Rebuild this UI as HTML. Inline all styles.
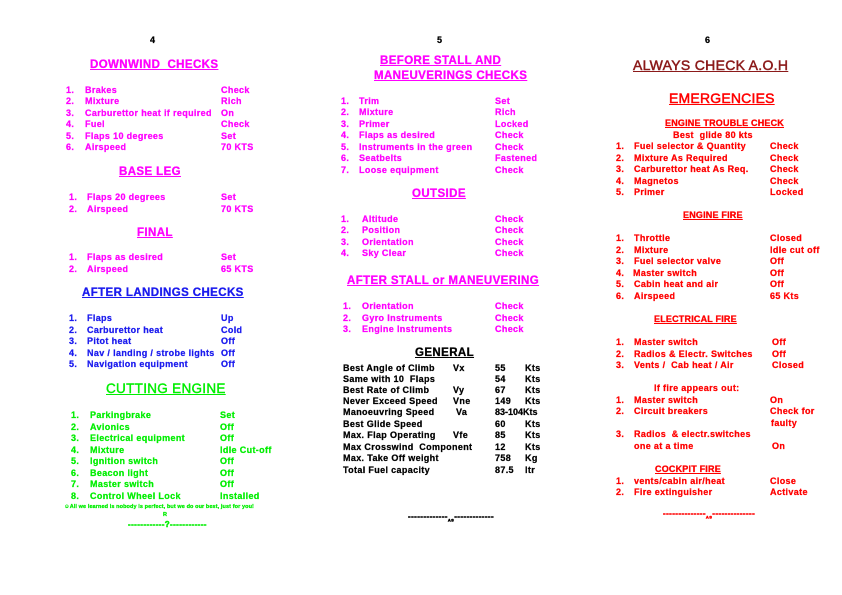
<!DOCTYPE html>
<html><head><meta charset="utf-8">
<style>
html,body{margin:0;padding:0;background:#fff;}
body{width:842px;height:595px;position:relative;overflow:hidden;font-family:"Liberation Sans",Arial,sans-serif;font-weight:bold;}
.t{position:absolute;white-space:nowrap;font-size:9px;line-height:10px;letter-spacing:0.35px;-webkit-text-stroke:0.25px currentColor;}
.h{position:absolute;white-space:nowrap;text-decoration:underline;font-size:11.5px;line-height:13px;letter-spacing:0.4px;-webkit-text-stroke:0.3px currentColor;}
.m{color:#ff00ff}.b{color:#1a1aee}.g{color:#00ee00}.r{color:#ff0000}.k{color:#000}
.d{position:absolute;white-space:nowrap;font-size:8px;line-height:8px;letter-spacing:0.4px;-webkit-text-stroke:0.5px currentColor;}
</style></head><body>
<div class="t k" style="left:150px;top:35px">4</div>
<div class="t k" style="left:437px;top:35px">5</div>
<div class="t k" style="left:705px;top:35px">6</div>

<div class="h m" style="left:90px;top:59px">DOWNWIND&nbsp; CHECKS</div>
<div class="t m" style="left:66px;top:85px">1.</div><div class="t m" style="left:85px;top:85px">Brakes</div><div class="t m" style="left:221px;top:85px">Check</div>
<div class="t m" style="left:66px;top:96px">2.</div><div class="t m" style="left:85px;top:96px">Mixture</div><div class="t m" style="left:221px;top:96px">Rich</div>
<div class="t m" style="left:66px;top:108px">3.</div><div class="t m" style="left:85px;top:108px">Carburettor heat if required</div><div class="t m" style="left:221px;top:108px">On</div>
<div class="t m" style="left:66px;top:119px">4.</div><div class="t m" style="left:85px;top:119px">Fuel</div><div class="t m" style="left:221px;top:119px">Check</div>
<div class="t m" style="left:66px;top:131px">5.</div><div class="t m" style="left:85px;top:131px">Flaps 10 degrees</div><div class="t m" style="left:221px;top:131px">Set</div>
<div class="t m" style="left:66px;top:142px">6.</div><div class="t m" style="left:85px;top:142px">Airspeed</div><div class="t m" style="left:221px;top:142px">70 KTS</div>

<div class="h m" style="left:119px;top:166px">BASE LEG</div>
<div class="t m" style="left:69px;top:192px">1.</div><div class="t m" style="left:87px;top:192px">Flaps 20 degrees</div><div class="t m" style="left:221px;top:192px">Set</div>
<div class="t m" style="left:69px;top:204px">2.</div><div class="t m" style="left:87px;top:204px">Airspeed</div><div class="t m" style="left:221px;top:204px">70 KTS</div>

<div class="h m" style="left:137px;top:227px">FINAL</div>
<div class="t m" style="left:69px;top:252px">1.</div><div class="t m" style="left:87px;top:252px">Flaps as desired</div><div class="t m" style="left:221px;top:252px">Set</div>
<div class="t m" style="left:69px;top:264px">2.</div><div class="t m" style="left:87px;top:264px">Airspeed</div><div class="t m" style="left:221px;top:264px">65 KTS</div>

<div class="h b" style="left:82px;top:287px">AFTER LANDINGS CHECKS</div>
<div class="t b" style="left:69px;top:313px">1.</div><div class="t b" style="left:87px;top:313px">Flaps</div><div class="t b" style="left:221px;top:313px">Up</div>
<div class="t b" style="left:69px;top:325px">2.</div><div class="t b" style="left:87px;top:325px">Carburettor heat</div><div class="t b" style="left:221px;top:325px">Cold</div>
<div class="t b" style="left:69px;top:336px">3.</div><div class="t b" style="left:87px;top:336px">Pitot heat</div><div class="t b" style="left:221px;top:336px">Off</div>
<div class="t b" style="left:69px;top:348px">4.</div><div class="t b" style="left:87px;top:348px">Nav / landing / strobe lights</div><div class="t b" style="left:221px;top:348px">Off</div>
<div class="t b" style="left:69px;top:359px">5.</div><div class="t b" style="left:87px;top:359px">Navigation equipment</div><div class="t b" style="left:221px;top:359px">Off</div>

<div class="h g" style="left:106px;top:381px;font-size:13.5px;line-height:16px;font-weight:normal;letter-spacing:0.3px;-webkit-text-stroke:0.4px #00ee00">CUTTING ENGINE</div>
<div class="t g" style="left:71px;top:410px">1.</div><div class="t g" style="left:90px;top:410px">Parkingbrake</div><div class="t g" style="left:220px;top:410px">Set</div>
<div class="t g" style="left:71px;top:422px">2.</div><div class="t g" style="left:90px;top:422px">Avionics</div><div class="t g" style="left:220px;top:422px">Off</div>
<div class="t g" style="left:71px;top:433px">3.</div><div class="t g" style="left:90px;top:433px">Electrical equipment</div><div class="t g" style="left:220px;top:433px">Off</div>
<div class="t g" style="left:71px;top:445px">4.</div><div class="t g" style="left:90px;top:445px">Mixture</div><div class="t g" style="left:220px;top:445px">Idle Cut-off</div>
<div class="t g" style="left:71px;top:456px">5.</div><div class="t g" style="left:90px;top:456px">Ignition switch</div><div class="t g" style="left:220px;top:456px">Off</div>
<div class="t g" style="left:71px;top:468px">6.</div><div class="t g" style="left:90px;top:468px">Beacon light</div><div class="t g" style="left:220px;top:468px">Off</div>
<div class="t g" style="left:71px;top:479px">7.</div><div class="t g" style="left:90px;top:479px">Master switch</div><div class="t g" style="left:220px;top:479px">Off</div>
<div class="t g" style="left:71px;top:491px">8.</div><div class="t g" style="left:90px;top:491px">Control Wheel Lock</div><div class="t g" style="left:220px;top:491px">Installed</div>
<div class="t g" style="left:64px;top:504px;font-size:5.5px;line-height:7px;letter-spacing:0.1px">&#9786;All we learned is nobody is perfect, but we do our best, just for you!</div>
<div class="t g" style="left:163px;top:512px;font-size:5.5px;line-height:7px">R</div>
<div class="d g" style="left:128px;top:521px">------------?------------</div>

<div class="h m" style="left:380px;top:55px">BEFORE STALL AND</div>
<div class="h m" style="left:374px;top:70px">MANEUVERINGS CHECKS</div>
<div class="t m" style="left:341px;top:96px">1.</div><div class="t m" style="left:359px;top:96px">Trim</div><div class="t m" style="left:495px;top:96px">Set</div>
<div class="t m" style="left:341px;top:107px">2.</div><div class="t m" style="left:359px;top:107px">Mixture</div><div class="t m" style="left:495px;top:107px">Rich</div>
<div class="t m" style="left:341px;top:119px">3.</div><div class="t m" style="left:359px;top:119px">Primer</div><div class="t m" style="left:495px;top:119px">Locked</div>
<div class="t m" style="left:341px;top:130px">4.</div><div class="t m" style="left:359px;top:130px">Flaps as desired</div><div class="t m" style="left:495px;top:130px">Check</div>
<div class="t m" style="left:341px;top:142px">5.</div><div class="t m" style="left:359px;top:142px">Instruments in the green</div><div class="t m" style="left:495px;top:142px">Check</div>
<div class="t m" style="left:341px;top:153px">6.</div><div class="t m" style="left:359px;top:153px">Seatbelts</div><div class="t m" style="left:495px;top:153px">Fastened</div>
<div class="t m" style="left:341px;top:165px">7.</div><div class="t m" style="left:359px;top:165px">Loose equipment</div><div class="t m" style="left:495px;top:165px">Check</div>

<div class="h m" style="left:412px;top:188px">OUTSIDE</div>
<div class="t m" style="left:341px;top:214px">1.</div><div class="t m" style="left:362px;top:214px">Altitude</div><div class="t m" style="left:495px;top:214px">Check</div>
<div class="t m" style="left:341px;top:225px">2.</div><div class="t m" style="left:362px;top:225px">Position</div><div class="t m" style="left:495px;top:225px">Check</div>
<div class="t m" style="left:341px;top:237px">3.</div><div class="t m" style="left:362px;top:237px">Orientation</div><div class="t m" style="left:495px;top:237px">Check</div>
<div class="t m" style="left:341px;top:248px">4.</div><div class="t m" style="left:362px;top:248px">Sky Clear</div><div class="t m" style="left:495px;top:248px">Check</div>

<div class="h m" style="left:347px;top:275px">AFTER STALL or MANEUVERING</div>
<div class="t m" style="left:343px;top:301px">1.</div><div class="t m" style="left:362px;top:301px">Orientation</div><div class="t m" style="left:495px;top:301px">Check</div>
<div class="t m" style="left:343px;top:313px">2.</div><div class="t m" style="left:362px;top:313px">Gyro Instruments</div><div class="t m" style="left:495px;top:313px">Check</div>
<div class="t m" style="left:343px;top:324px">3.</div><div class="t m" style="left:362px;top:324px">Engine Instruments</div><div class="t m" style="left:495px;top:324px">Check</div>

<div class="h k" style="left:415px;top:347px">GENERAL</div>
<div class="t k" style="left:343px;top:363px">Best Angle of Climb</div><div class="t k" style="left:453px;top:363px">Vx</div><div class="t k" style="left:495px;top:363px">55</div><div class="t k" style="left:525px;top:363px">Kts</div>
<div class="t k" style="left:343px;top:374px">Same with 10&nbsp; Flaps</div><div class="t k" style="left:495px;top:374px">54</div><div class="t k" style="left:525px;top:374px">Kts</div>
<div class="t k" style="left:343px;top:385px">Best Rate of Climb</div><div class="t k" style="left:453px;top:385px">Vy</div><div class="t k" style="left:495px;top:385px">67</div><div class="t k" style="left:525px;top:385px">Kts</div>
<div class="t k" style="left:343px;top:396px">Never Exceed Speed</div><div class="t k" style="left:453px;top:396px">Vne</div><div class="t k" style="left:495px;top:396px">149</div><div class="t k" style="left:525px;top:396px">Kts</div>
<div class="t k" style="left:343px;top:407px">Manoeuvring Speed</div><div class="t k" style="left:456px;top:407px">Va</div><div class="t k" style="left:495px;top:407px;letter-spacing:0">83-104Kts</div>
<div class="t k" style="left:343px;top:419px">Best Glide Speed</div><div class="t k" style="left:495px;top:419px">60</div><div class="t k" style="left:525px;top:419px">Kts</div>
<div class="t k" style="left:343px;top:430px">Max. Flap Operating</div><div class="t k" style="left:453px;top:430px">Vfe</div><div class="t k" style="left:495px;top:430px">85</div><div class="t k" style="left:525px;top:430px">Kts</div>
<div class="t k" style="left:343px;top:442px">Max Crosswind&nbsp; Component</div><div class="t k" style="left:495px;top:442px">12</div><div class="t k" style="left:525px;top:442px">Kts</div>
<div class="t k" style="left:343px;top:453px">Max. Take Off weight</div><div class="t k" style="left:495px;top:453px">758</div><div class="t k" style="left:525px;top:453px">Kg</div>
<div class="t k" style="left:343px;top:465px">Total Fuel capacity</div><div class="t k" style="left:495px;top:465px">87.5</div><div class="t k" style="left:525px;top:465px">ltr</div>
<div class="d k" style="left:408px;top:513px">-------------<sub style="font-size:4px">AS</sub>-------------</div>

<div class="h" style="left:633px;top:57px;color:#8b1a1a;font-size:14px;line-height:16px;font-weight:normal;letter-spacing:0.3px;-webkit-text-stroke:0.5px #8b1a1a">ALWAYS CHECK A.O.H</div>
<div class="h r" style="left:669px;top:90px;font-size:14px;line-height:16px;font-weight:normal;letter-spacing:0.2px;-webkit-text-stroke:0.5px #f00">EMERGENCIES</div>
<div class="h r" style="left:665px;top:118px;font-size:9px;line-height:10px;letter-spacing:0.2px">ENGINE TROUBLE CHECK</div>
<div class="t r" style="left:673px;top:130px">Best&nbsp; glide 80 kts</div>
<div class="t r" style="left:616px;top:141px">1.</div><div class="t r" style="left:634px;top:141px">Fuel selector &amp; Quantity</div><div class="t r" style="left:770px;top:141px">Check</div>
<div class="t r" style="left:616px;top:153px">2.</div><div class="t r" style="left:634px;top:153px">Mixture As Required</div><div class="t r" style="left:770px;top:153px">Check</div>
<div class="t r" style="left:616px;top:164px">3.</div><div class="t r" style="left:634px;top:164px">Carburettor heat As Req.</div><div class="t r" style="left:770px;top:164px">Check</div>
<div class="t r" style="left:616px;top:176px">4.</div><div class="t r" style="left:634px;top:176px">Magnetos</div><div class="t r" style="left:770px;top:176px">Check</div>
<div class="t r" style="left:616px;top:187px">5.</div><div class="t r" style="left:634px;top:187px">Primer</div><div class="t r" style="left:770px;top:187px">Locked</div>

<div class="h r" style="left:683px;top:210px;font-size:9px;line-height:10px;letter-spacing:0.2px">ENGINE FIRE</div>
<div class="t r" style="left:616px;top:233px">1.</div><div class="t r" style="left:634px;top:233px">Throttle</div><div class="t r" style="left:770px;top:233px">Closed</div>
<div class="t r" style="left:616px;top:245px">2.</div><div class="t r" style="left:634px;top:245px">Mixture</div><div class="t r" style="left:770px;top:245px">Idle cut off</div>
<div class="t r" style="left:616px;top:256px">3.</div><div class="t r" style="left:634px;top:256px">Fuel selector valve</div><div class="t r" style="left:770px;top:256px">Off</div>
<div class="t r" style="left:616px;top:268px">4.</div><div class="t r" style="left:633px;top:268px">Master switch</div><div class="t r" style="left:770px;top:268px">Off</div>
<div class="t r" style="left:616px;top:279px">5.</div><div class="t r" style="left:634px;top:279px">Cabin heat and air</div><div class="t r" style="left:770px;top:279px">Off</div>
<div class="t r" style="left:616px;top:291px">6.</div><div class="t r" style="left:634px;top:291px">Airspeed</div><div class="t r" style="left:770px;top:291px">65 Kts</div>

<div class="h r" style="left:654px;top:314px;font-size:9px;line-height:10px;letter-spacing:0.2px">ELECTRICAL FIRE</div>
<div class="t r" style="left:616px;top:337px">1.</div><div class="t r" style="left:634px;top:337px">Master switch</div><div class="t r" style="left:772px;top:337px">Off</div>
<div class="t r" style="left:616px;top:349px">2.</div><div class="t r" style="left:634px;top:349px">Radios &amp; Electr. Switches</div><div class="t r" style="left:772px;top:349px">Off</div>
<div class="t r" style="left:616px;top:360px">3.</div><div class="t r" style="left:634px;top:360px">Vents /&nbsp; Cab heat / Air</div><div class="t r" style="left:772px;top:360px">Closed</div>

<div class="t r" style="left:654px;top:383px">If fire appears out:</div>
<div class="t r" style="left:616px;top:395px">1.</div><div class="t r" style="left:634px;top:395px">Master switch</div><div class="t r" style="left:770px;top:395px">On</div>
<div class="t r" style="left:616px;top:406px">2.</div><div class="t r" style="left:634px;top:406px">Circuit breakers</div><div class="t r" style="left:770px;top:406px">Check for</div>
<div class="t r" style="left:771px;top:418px">faulty</div>
<div class="t r" style="left:616px;top:429px">3.</div><div class="t r" style="left:634px;top:429px">Radios&nbsp; &amp; electr.switches</div>
<div class="t r" style="left:634px;top:441px">one at a time</div><div class="t r" style="left:772px;top:441px">On</div>

<div class="h r" style="left:655px;top:464px;font-size:9px;line-height:10px;letter-spacing:0.2px">COCKPIT FIRE</div>
<div class="t r" style="left:616px;top:476px">1.</div><div class="t r" style="left:634px;top:476px">vents/cabin air/heat</div><div class="t r" style="left:770px;top:476px">Close</div>
<div class="t r" style="left:616px;top:487px">2.</div><div class="t r" style="left:634px;top:487px">Fire extinguisher</div><div class="t r" style="left:770px;top:487px">Activate</div>
<div class="d r" style="left:663px;top:510px">--------------<sub style="font-size:4px">AS</sub>--------------</div>
</body></html>
